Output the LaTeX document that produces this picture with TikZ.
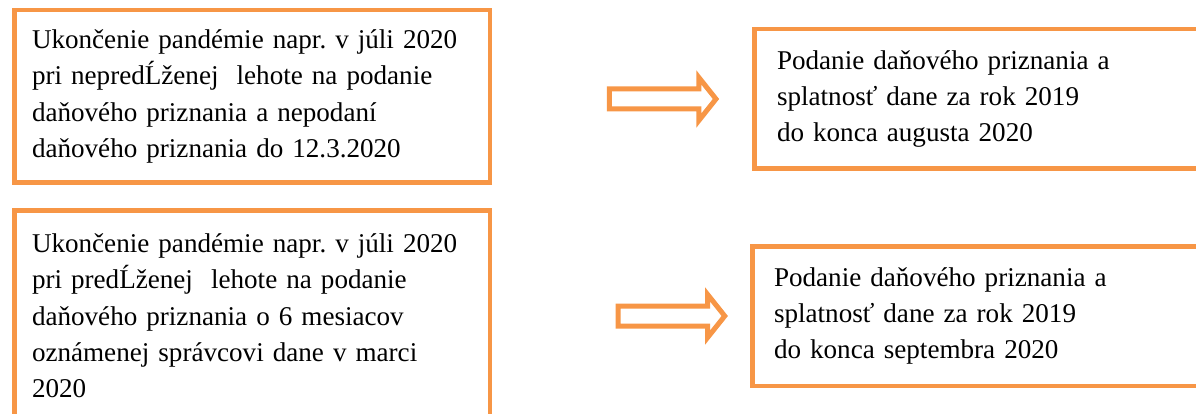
\documentclass[tikz,border=0pt]{standalone}
\usepackage{fontspec}
\setmainfont{Liberation Serif}
\usepackage{xcolor}
\usepackage{tikz}
\usetikzlibrary{
    positioning,
    shapes.arrows
}
\definecolor{box_orange}{HTML}{F79646}
\frenchspacing

\begin{document}
\begin{tikzpicture}[
    x=1pt,
    y=-1pt,
    node distance=23pt and 260pt,
    box_style/.style={
        draw=box_orange,
        line width=4.5pt,
        rectangle,
        align=left,
        inner sep=0pt,
        font=\fontsize{27.1}{36.3}\selectfont
    },
    left_box/.style={
        box_style,
        minimum width=475.5pt,
        text width=440pt
    },
    right_box/.style={
        box_style,
        minimum height=139.5pt
    },
    arrow_style/.style={
        draw=box_orange,
        line width=5pt,
        fill=white,
        single arrow,
        single arrow tip angle=103,
        single arrow head extend=11.5pt,
        inner sep=0pt,
        inner ysep=7.5pt,
        minimum height=106.5pt
    }
]
\useasboundingbox (0,0) rectangle (1196,414);
\clip (0,0) rectangle (1196,414);

% --- Nodes ---
\node[left_box, minimum height=172.5pt] at (252,96.5) (Pand1)
    {Ukončenie pandémie napr. v júli 2020\\
     pri nepredĹženej \ lehote na podanie\\
     daňového priznania a nepodaní\\
     daňového priznania do 12.3.2020};
\node[left_box, minimum height=211.5pt, below=of Pand1] (Pand2)
    {Ukončenie pandémie napr. v júli 2020\\
     pri predĹženej \ lehote na podanie\\
     daňového priznania o 6 mesiacov\\
     oznámenej správcovi dane v marci\\
     2020};

% right column, cut off at the page edge
\node[right_box, minimum width=540pt, text width=494.5pt] at (1024.25,99) (Tax1)
    {Podanie daňového priznania a\\
     splatnosť dane za rok 2019\\
     do konca augusta 2020};
\node[right_box, minimum width=540pt, text width=496.5pt] at (1022.25,316) (Tax2)
    {Podanie daňového priznania a\\
     splatnosť dane za rok 2019\\
     do konca septembra 2020};

% --- Block arrows ---
\node[arrow_style] at (658.75,99) (Arr1) {};
\node[arrow_style] at (667.5,316) (Arr2) {};

\end{tikzpicture}
\end{document}
